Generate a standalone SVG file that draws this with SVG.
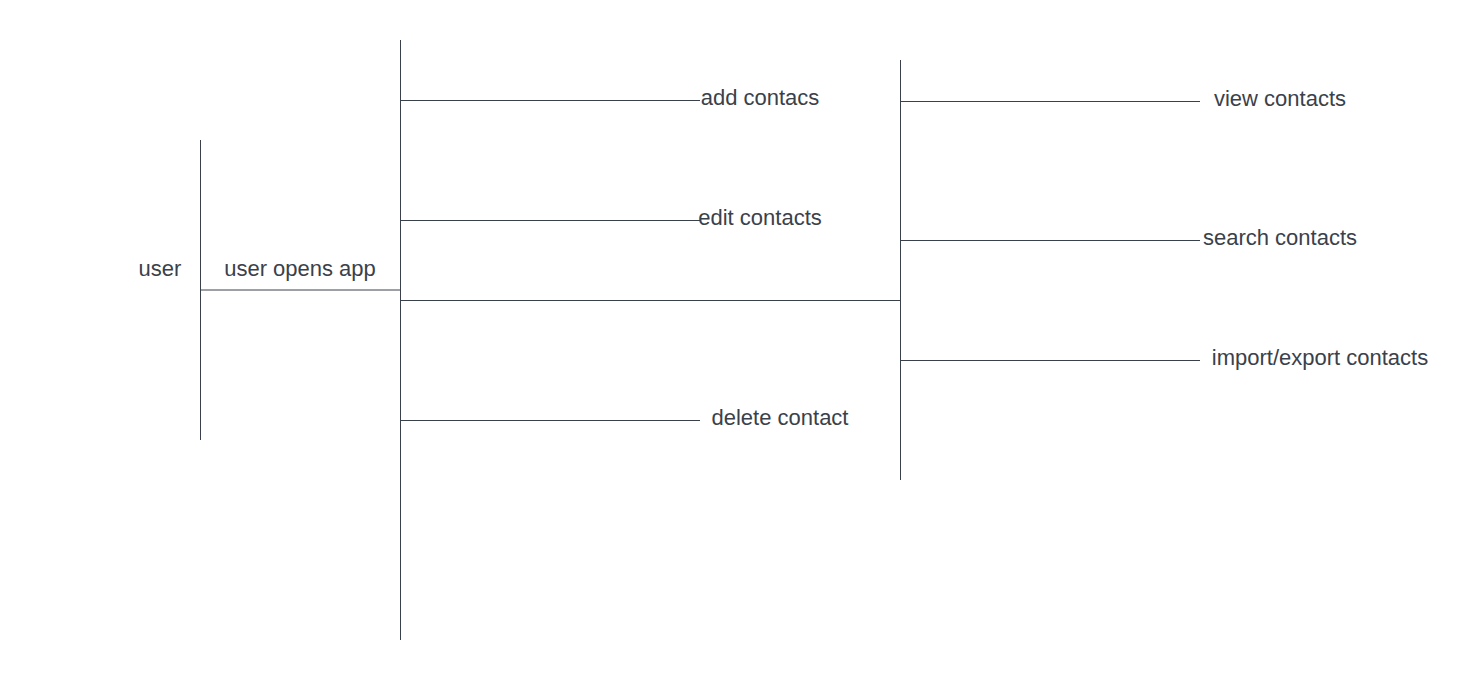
<svg xmlns="http://www.w3.org/2000/svg" width="1480" height="680" viewBox="0 0 1480 680">
<style>
.ln{stroke:#3a414a;stroke-width:1;fill:none}
.lb{font-family:"Liberation Sans",Arial,sans-serif;font-size:22px;fill:#3a414a;text-anchor:middle}
</style>
<rect width="1480" height="680" fill="#ffffff"/>
<g id="connectors">
<line class="ln" x1="200.5" y1="140" x2="200.5" y2="440"/>
<line class="ln" x1="200" y1="290" x2="400" y2="290"/>
<line class="ln" x1="400.5" y1="40" x2="400.5" y2="640"/>
<line class="ln" x1="400" y1="100.5" x2="700" y2="100.5"/>
<line class="ln" x1="400" y1="220.5" x2="700" y2="220.5"/>
<line class="ln" x1="400" y1="300.5" x2="900" y2="300.5"/>
<line class="ln" x1="400" y1="420.5" x2="700" y2="420.5"/>
<line class="ln" x1="900.5" y1="60" x2="900.5" y2="480"/>
<line class="ln" x1="900" y1="101.5" x2="1200" y2="101.5"/>
<line class="ln" x1="900" y1="240.5" x2="1200" y2="240.5"/>
<line class="ln" x1="900" y1="360.5" x2="1200" y2="360.5"/>
</g>
<g id="user"><text class="lb" x="160" y="276">user</text></g>
<g id="user-opens-app"><text class="lb" x="300" y="276">user opens app</text></g>
<g id="add-contacs"><text class="lb" x="760" y="105">add contacs</text></g>
<g id="edit-contacts"><text class="lb" x="760" y="225">edit contacts</text></g>
<g id="delete-contact"><text class="lb" x="780" y="425">delete contact</text></g>
<g id="view-contacts"><text class="lb" x="1280" y="106">view contacts</text></g>
<g id="search-contacts"><text class="lb" x="1280" y="245">search contacts</text></g>
<g id="import-export-contacts"><text class="lb" x="1320" y="365">import/export contacts</text></g>
</svg>
